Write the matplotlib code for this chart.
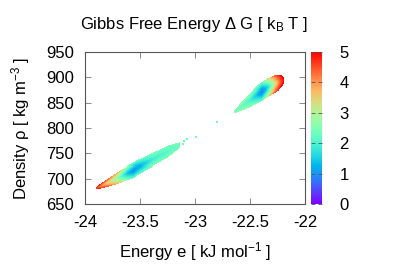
import numpy as np
import matplotlib
matplotlib.use("Agg")
import matplotlib.pyplot as plt
from matplotlib.colors import Normalize

plt.rcParams['font.family'] = ['Liberation Sans', 'DejaVu Sans']
plt.rcParams['mathtext.fontset'] = 'custom'
plt.rcParams['mathtext.rm'] = 'Liberation Sans'
plt.rcParams['mathtext.it'] = 'Liberation Sans'

# ---- data ----
# lower basin ridge (energy, density, free energy along ridge, vertical half width, rise to edge)
lower_e = [-23.90, -23.80, -23.70, -23.62, -23.56, -23.48, -23.38, -23.25, -23.14]
lower_rho = [681.5, 692.0, 702.5, 711.0, 717.0, 726.0, 737.5, 752.5, 765.5]
lower_G = [4.6, 3.5, 2.5, 1.4, 0.9, 1.3, 1.9, 2.1, 2.3]
lower_hw = [3, 8, 12, 14, 15, 14, 13, 12, 6]
lower_rise = [0.5, 1.1, 1.3, 1.3, 1.4, 1.1, 0.6, 0.4, 0.2]

# upper basin ridge
upper_e = [-22.64, -22.58, -22.50, -22.44, -22.39, -22.34, -22.28, -22.22, -22.19]
upper_rho = [832, 842, 855, 865, 872, 879, 886, 891, 893]
upper_G = [2.4, 2.3, 2.0, 1.4, 0.8, 1.5, 3.0, 4.5, 5.0]
upper_hw = [3, 8, 14, 17, 18, 18, 17, 13, 8]
upper_rise = [0.2, 0.4, 0.7, 1.2, 1.6, 1.8, 1.4, 0.5, 0.05]

# isolated sampled cells
stray_e = [-22.81, -23.00, -23.08, -23.10, -23.11]
stray_rho = [811, 781, 777, 773, 767]
stray_G = [2.4, 2.4, 2.3, 2.4, 2.3]

xticks = [-24, -23.5, -23, -22.5, -22]
xticklabels = ['-24', '-23.5', '-23', '-22.5', '-22']
yticks = [650, 700, 750, 800, 850, 900, 950]
cticks = [0, 1, 2, 3, 4, 5]

# ---- grid ----
DE, DR = 0.009, 2.0
E = np.arange(-24.0, -22.0, DE)
R = np.arange(650.0, 950.0, DR)
EE, RR = np.meshgrid(E + DE / 2, R + DR / 2)
G = np.full(EE.shape, np.nan)

def add_basin(es, rs, gs, hws, rises):
    global G
    es = np.array(es)
    inside_e = (EE >= es[0]) & (EE <= es[-1])
    rc = np.interp(EE, es, rs)
    hw = np.interp(EE, es, hws)
    gc = np.interp(EE, es, gs)
    rise = np.interp(EE, es, rises)
    d = (RR - rc) / hw
    val = gc + rise * np.abs(d) ** 1.2
    ok = inside_e & (np.abs(d) <= 1.0) & (val <= 5.0)
    G = np.where(ok, val, G)

add_basin(lower_e, lower_rho, lower_G, lower_hw, lower_rise)
add_basin(upper_e, upper_rho, upper_G, upper_hw, upper_rise)
for e0, r0, g0 in zip(stray_e, stray_rho, stray_G):
    i = np.argmin(np.abs(E + DE / 2 - e0))
    j = np.argmin(np.abs(R + DR / 2 - r0))
    G[j:j + 2, i:i + 2] = g0

W, H = 397, 278
fig = plt.figure(figsize=(W / 100, H / 100), dpi=100)
ax = fig.add_axes([85 / W, (H - 204) / H, 220 / W, 152 / H])
cax = fig.add_axes([310.5 / W, (H - 204) / H, 11 / W, 152 / H])

norm = Normalize(0, 5)
cmap = plt.get_cmap('rainbow')
Gm = np.ma.masked_invalid(G)
edges_e = np.append(E, E[-1] + DE)
edges_r = np.append(R, R[-1] + DR)
ax.pcolormesh(edges_e, edges_r, Gm, cmap=cmap, norm=norm, shading='flat')

ax.set_xlim(-24, -22)
ax.set_ylim(650, 950)
ax.set_xticks(xticks)
ax.set_xticklabels(xticklabels)
ax.set_yticks(yticks)
border = '#555555'
for s in ax.spines.values():
    s.set_color(border)
    s.set_linewidth(0.8)
ax.tick_params(direction='in', top=True, right=True, length=4, width=0.6,
               color='#777777', labelsize=12)
ax.tick_params(axis='x', pad=8)
ax.tick_params(axis='y', pad=8)
ax.set_xlabel(r'Energy e [ kJ mol$^{-1}$ ]', fontsize=12, labelpad=7)
ax.set_ylabel(r'Density ρ [ kg m$^{-3}$ ]', fontsize=12, labelpad=10)
fig.text(194 / W, 1 - 25 / H, r'Gibbs Free Energy Δ G [ k$_{\mathrm{B}}$ T ]',
         fontsize=12, ha='center', va='center')

cb = fig.colorbar(plt.cm.ScalarMappable(norm=norm, cmap=cmap), cax=cax)
cb.outline.set_visible(False)
cb.set_ticks(cticks)
cax.tick_params(direction='in', left=True, right=True, length=3, width=0.6,
                color='#555555', labelsize=12, pad=13)

fig.savefig('out.png', dpi=100)
